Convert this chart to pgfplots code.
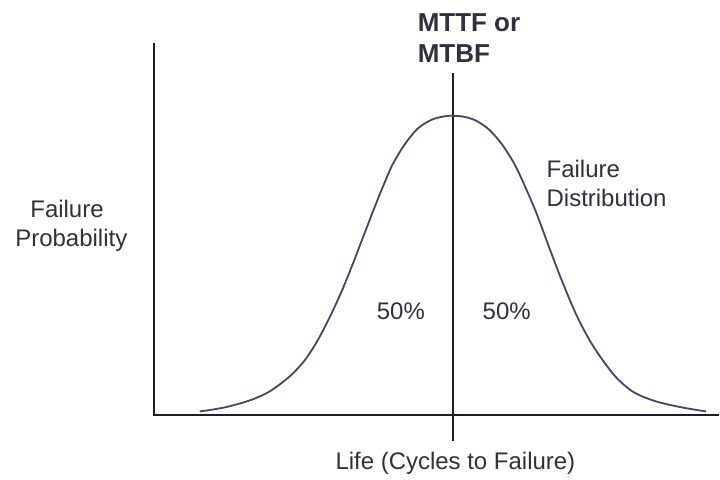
\documentclass[border=0pt]{standalone}
\usepackage{fontspec}
\setmainfont{Liberation Sans}
\usepackage{pgfplots}
\pgfplotsset{compat=1.18}
\definecolor{fdInk}{HTML}{1E1E2A}
\definecolor{fdText}{HTML}{30303F}
\definecolor{fdCurve}{HTML}{45456A}

\begin{document}
\begin{tikzpicture}
\begin{axis}[
  scale only axis, width=360pt, height=240pt,
  xmin=0, xmax=720, ymin=0, ymax=480,
  hide axis, clip=false
]
% keep the whole canvas in the bounding box
\path (axis cs:0,0) rectangle (axis cs:720,480);
% axes (pixel-like coordinates, y measured from the bottom)
\addplot[fdInk, line width=1pt] coordinates {(154,437) (154,64) (720,64)};
% mean line
\addplot[fdInk, line width=1pt] coordinates {(454,407) (454,38)};
% failure distribution
\addplot[fdCurve, line width=0.9pt, smooth] coordinates {
  (200,68) (225,72) (250,79) (270,88) (290,103) (305,119) (318,139)
  (330,162) (342,188) (353,215) (363,241) (373,267) (383,292) (393,315)
  (405,335) (418,351) (432,360) (445,363.5) (454,364) (465,363) (477,359)
  (490,350) (503,335) (515,316) (525,295) (537,267) (550,232) (563,198)
  (577,165) (590,140) (603,120) (618,101) (635,87) (657,78) (683,72)
  (707,68)};

\node[anchor=base west, inner sep=0pt, text=fdText, font=\fontsize{13}{15}\selectfont\bfseries] at (axis cs:418,448) {MTTF or};
\node[anchor=base west, inner sep=0pt, text=fdText, font=\fontsize{13}{15}\selectfont\bfseries] at (axis cs:418,417) {MTBF};
\node[anchor=base west, inner sep=0pt, text=fdText, font=\fontsize{12}{14}\selectfont] at (axis cs:30,262) {Failure};
\node[anchor=base west, inner sep=0pt, text=fdText, font=\fontsize{12}{14}\selectfont] at (axis cs:15,233) {Probability};
\node[anchor=base west, inner sep=0pt, text=fdText, font=\fontsize{12}{14}\selectfont] at (axis cs:547,302) {Failure};
\node[anchor=base west, inner sep=0pt, text=fdText, font=\fontsize{12}{14}\selectfont] at (axis cs:547,273) {Distribution};
\node[anchor=base west, inner sep=0pt, text=fdText, font=\fontsize{12}{14}\selectfont] at (axis cs:377,160) {50\%};
\node[anchor=base west, inner sep=0pt, text=fdText, font=\fontsize{12}{14}\selectfont] at (axis cs:483,160) {50\%};
\node[anchor=base, inner sep=0pt, text=fdText, font=\fontsize{12}{14}\selectfont] at (axis cs:456,10) {Life (Cycles to Failure)};
\end{axis}
\end{tikzpicture}
\end{document}
